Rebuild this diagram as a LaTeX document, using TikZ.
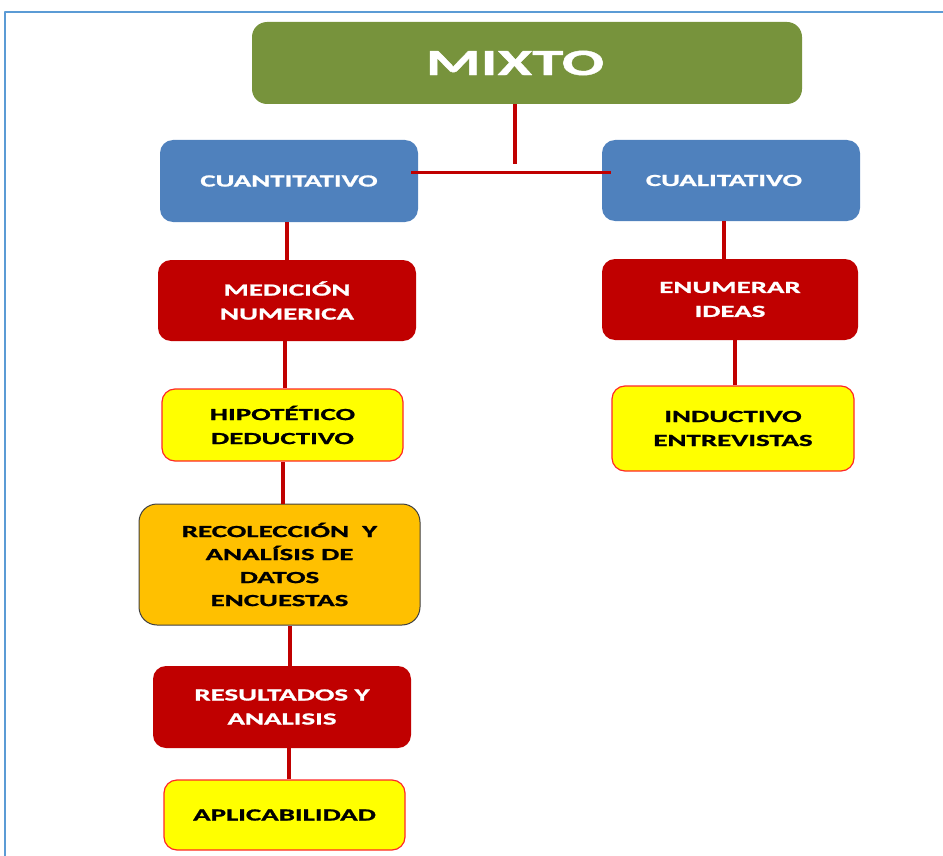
\documentclass[tikz,border=0pt]{standalone}
\usepackage{fontspec}
\usepackage{tikz}
\usetikzlibrary{positioning,calc}

\newfontfamily\boxfont[FakeStretch=1.7, FakeBold=1.2]{Carlito}

\definecolor{mixgreen}{RGB}{119,147,60}
\definecolor{headblue}{RGB}{79,129,189}
\definecolor{darkred}{RGB}{192,0,0}
\definecolor{boxyellow}{RGB}{255,255,0}
\definecolor{edgered}{RGB}{255,40,40}
\definecolor{boxorange}{RGB}{255,192,0}
\definecolor{frameblue}{RGB}{91,155,213}

\begin{document}
\begin{tikzpicture}[
        x=1pt, y=-1pt, line join=round,
        font=\boxfont\bfseries\fontsize{17}{24}\selectfont,
        box/.style={rounded corners=13pt, align=center, inner sep=0pt},
        topbox/.style={box, fill=mixgreen, text=white, rounded corners=15pt},
        headbox/.style={box, fill=headblue, text=white},
        redbox/.style={box, fill=darkred, text=white},
        yelbox/.style={box, fill=boxyellow, draw=edgered, line width=1.2pt, text=black},
        orbox/.style={box, fill=boxorange, draw=black!75, line width=1pt, text=black},
        link/.style={draw=darkred, line width=3.5pt}
      ]
      \useasboundingbox (0,0) rectangle (943,856);

      % ---- frame ----
      \draw[frameblue, line width=2pt] (5,856) -- (5,12) -- (943,12);

      %==================== TOP ====================
      \node[topbox, minimum width=550pt, minimum height=82pt,
            font=\boxfont\bfseries\fontsize{37}{40}\selectfont] (mixto) at (527,63) {MIXTO\hspace*{24pt}};

      \node[headbox, minimum width=258pt, minimum height=82pt] (cuanti) at (289,181) {CUANTITATIVO};
      \node[headbox, minimum width=258pt, minimum height=81pt] (cuali) at (731,180.5) {CUALITATIVO\hspace*{14pt}};

      %==================== LEFT BRANCH ====================
      \node[redbox, minimum width=258pt, minimum height=81pt] (medicion) at (287,300.5) {MEDICIÓN\\NUMERICA};
      \node[yelbox, minimum width=241pt, minimum height=72pt] (hipotetico) at (282.5,425) {HIPOTÉTICO\\DEDUCTIVO};
      \node[orbox, minimum width=281pt, minimum height=121pt, rounded corners=18pt,
            font=\boxfont\bfseries\fontsize{17}{23}\selectfont] (recoleccion) at (279.5,564.5)
            {RECOLECCIÓN\ \ Y\\ANALÍSIS DE\\DATOS\\ENCUESTAS};
      \node[redbox, minimum width=258pt, minimum height=82pt] (resultados) at (282,707) {RESULTADOS Y\\ANALISIS};
      \node[yelbox, minimum width=241pt, minimum height=70pt] (aplica) at (284.5,815) {APLICABILIDAD};

      %==================== RIGHT BRANCH ====================
      \node[redbox, minimum width=256pt, minimum height=81pt] (enumerar) at (730,299.5) {ENUMERAR\\IDEAS};
      \node[yelbox, minimum width=242pt, minimum height=85pt] (inductivo) at (733,428.5) {INDUCTIVO\\ENTREVISTAS};

      % ---- connectors ----
      \coordinate (split) at (515,164);
      \coordinate (hbar) at ([xshift=-7pt, yshift=8pt]cuanti.east);
      \draw[link] (mixto.south -| split) -- (split);
      \draw[link, line width=3pt] (hbar) -- ([xshift=9pt]cuali.west |- hbar);

      \draw[link] (medicion.north) -- (medicion.north |- cuanti.south);
      \draw[link] ([xshift=2.5pt]hipotetico.north) -- ([xshift=2.5pt]hipotetico.north |- medicion.south);
      \draw[link] ([xshift=3.5pt]recoleccion.north) -- ([xshift=3.5pt]recoleccion.north |- hipotetico.south);
      \draw[link] ([xshift=8pt]resultados.north) -- ([xshift=8pt]resultados.north |- recoleccion.south);
      \draw[link] ([xshift=4.5pt]aplica.north) -- ([xshift=4.5pt]aplica.north |- resultados.south);

      \draw[link] ([xshift=-6pt]enumerar.north) -- ([xshift=-6pt]enumerar.north |- cuali.south);
      \draw[link] ([xshift=2pt]inductivo.north) -- ([xshift=2pt]inductivo.north |- enumerar.south);

    \end{tikzpicture}
\end{document}
